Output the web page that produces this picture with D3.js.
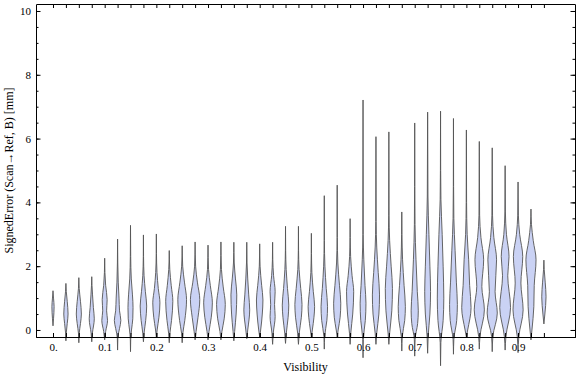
<!DOCTYPE html>
<html>
<head>
<meta charset="utf-8">
<script src="https://cdn.jsdelivr.net/npm/d3@7"></script>
<style>
body{margin:0;background:#fff;}
text{font-family:"Liberation Serif","Times New Roman",serif;}
</style>
</head>
<body>
<script>
// violin positions (visibility bins)
var visibility = [0,0.025,0.05,0.075,0.1,0.125,0.15,0.175,0.2,0.225,0.25,0.275,0.3,0.325,0.35,0.375,0.4,0.425,0.45,0.475,
  0.5,0.525,0.55,0.575,0.6,0.625,0.65,0.675,0.7,0.725,0.75,0.775,0.8,0.825,0.85,0.875,0.9,0.925,0.95];
var xTickValues = [0,0.1,0.2,0.3,0.4,0.5,0.6,0.7,0.8,0.9];
var xTickLabels = ['0.','0.1','0.2','0.3','0.4','0.5','0.6','0.7','0.8','0.9'];
var yTickValues = [0,2,4,6,8,10];

// each violin: [signed error, relative density]
var profiles = [
  [[.13,0],[.35,.08],[.73,.17],[1.0,.08],[1.23,0]],
  [[-.34,0],[-.1,.05],[.2,.2],[.5,.33],[.9,.2],[1.2,.06],[1.46,0]],
  [[-.4,0],[-.1,.06],[.2,.25],[.5,.39],[.9,.25],[1.3,.06],[1.64,0]],
  [[-.37,0],[-.1,.1],[.35,.39],[.7,.25],[1.1,.12],[1.4,.04],[1.67,0]],
  [[-.31,0],[-.05,.15],[.3,.44],[.6,.3],[.95,.38],[1.4,.15],[1.8,.04],[2.25,0]],
  [[-.63,0],[-.25,.04],[.05,.3],[.3,.5],[.6,.3],[1.0,.22],[1.5,.1],[2.1,.03],[2.85,0]],
  [[-.68,0],[-.3,.03],[0,.15],[.35,.35],[.7,.39],[1.1,.3],[1.6,.12],[2.3,.03],[3.28,0]],
  [[-.37,0],[-.1,.1],[.3,.35],[.75,.5],[1.2,.3],[1.7,.1],[2.3,.02],[2.98,0]],
  [[-.22,0],[0,.12],[.4,.4],[.85,.55],[1.3,.3],[1.8,.1],[2.4,.02],[3.01,0]],
  [[-.4,0],[-.1,.1],[.3,.35],[.9,.55],[1.4,.3],[1.9,.08],[2.49,0]],
  [[-.4,0],[-.1,.1],[.3,.4],[.95,.67],[1.5,.35],[2.0,.08],[2.64,0]],
  [[-.31,0],[-.05,.15],[.4,.45],[.95,.72],[1.5,.35],[2.0,.08],[2.76,0]],
  [[-.31,0],[-.05,.15],[.4,.5],[.85,.67],[1.4,.35],[1.9,.08],[2.66,0]],
  [[-.31,0],[-.05,.15],[.35,.5],[.8,.67],[1.35,.35],[1.9,.08],[2.76,0]],
  [[-.34,0],[-.05,.12],[.5,.35],[1.1,.45],[1.6,.25],[2.1,.06],[2.75,0]],
  [[-.27,0],[0,.15],[.63,.45],[1.1,.3],[1.6,.15],[2.1,.04],[2.75,0]],
  [[-.22,0],[0,.15],[.5,.4],[.94,.5],[1.4,.3],[2.0,.06],[2.7,0]],
  [[-.45,0],[-.1,.1],[.42,.39],[.8,.3],[1.2,.39],[1.7,.15],[2.2,.03],[2.75,0]],
  [[-.42,0],[-.1,.12],[.4,.4],[.78,.5],[1.3,.3],[1.9,.1],[2.5,.02],[3.25,0]],
  [[-.45,0],[-.1,.12],[.4,.45],[.8,.55],[1.3,.35],[1.9,.1],[2.5,.02],[3.25,0]],
  [[-.22,0],[0,.15],[.4,.4],[.73,.5],[1.2,.3],[1.8,.08],[2.4,.02],[3.03,0]],
  [[-.6,0],[-.2,.06],[.3,.4],[.73,.5],[1.3,.3],[2,.1],[2.8,.02],[4.21,0]],
  [[-.22,0],[0,.15],[.4,.45],[.84,.55],[1.4,.35],[2.1,.1],[2.9,.02],[4.54,0]],
  [[-.45,0],[-.1,.1],[.5,.4],[1.2,.55],[1.7,.3],[2.3,.08],[2.9,.02],[3.49,0]],
  [[-.87,0],[-.3,.04],[.3,.35],[.84,.45],[1.4,.3],[2.2,.12],[3.0,.03],[7.21,0]],
  [[-.45,0],[-.1,.12],[.5,.45],[1.1,.55],[1.8,.35],[2.6,.12],[3.4,.03],[6.06,0]],
  [[-.45,0],[-.1,.12],[.6,.45],[1.3,.55],[2.0,.35],[2.8,.12],[3.6,.03],[6.21,0]],
  [[-.66,0],[-.2,.08],[.3,.45],[.73,.55],[1.4,.35],[2.2,.12],[3.0,.03],[3.7,0]],
  [[-.82,0],[-.3,.06],[.2,.45],[.6,.55],[1.2,.4],[2.2,.2],[3.3,.05],[4.5,.02],[6.49,0]],
  [[-.73,0],[-.2,.08],[.5,.35],[1.2,.45],[2.0,.35],[3.0,.2],[4.2,.05],[6.83,0]],
  [[-1.12,0],[-.4,.05],[.3,.4],[1.0,.5],[2.0,.4],[3.0,.25],[4.1,.06],[5,.02],[6.86,0]],
  [[-.76,0],[-.3,.06],[.3,.5],[.8,.6],[1.5,.45],[2.5,.25],[3.5,.06],[4.5,.02],[6.63,0]],
  [[-.22,0],[0,.2],[.7,.72],[1.4,.5],[2.2,.35],[3.0,.12],[4.0,.03],[6.27,0]],
  [[-.6,0],[-.2,.1],[.63,.78],[1.36,.39],[2.2,.67],[2.9,.25],[3.6,.05],[5.91,0]],
  [[-.68,0],[-.2,.1],[.53,.78],[1.2,.44],[2.2,.67],[2.9,.25],[3.6,.05],[5.71,0]],
  [[-.63,0],[-.2,.12],[.7,.83],[1.7,.4],[2.3,.6],[3.0,.2],[3.7,.04],[5.15,0]],
  [[-.71,0],[-.2,.12],[.63,.78],[1.47,.44],[2.3,.72],[3.0,.25],[3.6,.05],[4.64,0]],
  [[-.31,0],[0,.15],[.73,.44],[1.4,.5],[2.2,.78],[2.8,.35],[3.3,.08],[3.79,0]],
  [[.19,0],[.5,.15],[1.04,.33],[1.5,.2],[1.9,.05],[2.19,0]]
];

var W = 576, H = 377;
var svg = d3.select('body').append('svg').attr('width', W).attr('height', H);

var x = d3.scaleLinear().domain([-0.0329, 1.0102]).range([36, 575]);
var y = d3.scaleLinear().domain([-0.22, 10.21]).range([337, 4.3]);
var w = d3.scaleLinear().domain([0, 1]).range([0, 6.5]);

/* violins */
var grp = svg.append('g');
visibility.forEach(function(v, i){
	var area = d3.area()
		.y(function(d){ return y(d[0]); })
		.x0(function(d){ return x(v) - w(d[1]); })
		.x1(function(d){ return x(v) + w(d[1]); })
		.curve(d3.curveMonotoneY);
	grp.append('path').attr('d', area(profiles[i].slice().reverse()))
		.attr('fill', '#cad2f4').attr('stroke', '#555').attr('stroke-width', 0.9)
		.attr('stroke-linejoin', 'round');
});

/* frame with inward ticks */
var minorY = d3.range(0, 10.01, 0.5);
svg.append('g').attr('transform', 'translate(0,337)')
	.call(d3.axisBottom(x).tickValues(visibility).tickSize(-4).tickSizeOuter(0).tickFormat(''));
svg.append('g').attr('transform', 'translate(0,337)')
	.call(d3.axisBottom(x).tickValues(xTickValues).tickSize(-4).tickSizeOuter(0).tickPadding(6)
		.tickFormat(function(d, i){ return xTickLabels[i]; }));
svg.append('g').attr('transform', 'translate(0,4)')
	.call(d3.axisTop(x).tickValues(visibility).tickSize(-4).tickSizeOuter(0).tickFormat(''));
svg.append('g').attr('transform', 'translate(36,0)')
	.call(d3.axisLeft(y).tickValues(minorY).tickSize(-2.5).tickSizeOuter(0).tickFormat(''));
svg.append('g').attr('transform', 'translate(36,0)')
	.call(d3.axisLeft(y).tickValues(yTickValues).tickSize(-4.5).tickSizeOuter(0).tickPadding(5).tickFormat(d3.format('d')));
svg.append('g').attr('transform', 'translate(575,0)')
	.call(d3.axisRight(y).tickValues(minorY).tickSize(-2.5).tickSizeOuter(0).tickFormat(''));
svg.append('g').attr('transform', 'translate(575,0)')
	.call(d3.axisRight(y).tickValues(yTickValues).tickSize(-4.5).tickSizeOuter(0).tickFormat(''));

svg.selectAll('.tick text').style('font-family', '"Liberation Serif", serif').style('font-size', '11px').attr('fill', '#000');
svg.selectAll('.domain, .tick line').attr('stroke', '#000');

/* axis titles */
svg.append('text').attr('x', 305.5).attr('y', 371).attr('text-anchor', 'middle')
	.style('font-size', '12px').text('Visibility');
svg.append('text').attr('transform', 'rotate(-90)').attr('x', -170.5).attr('y', 13).attr('text-anchor', 'middle')
	.style('font-size', '12px').text('SignedError (Scan\u2192Ref, B) [mm]');
</script>
</body>
</html>
